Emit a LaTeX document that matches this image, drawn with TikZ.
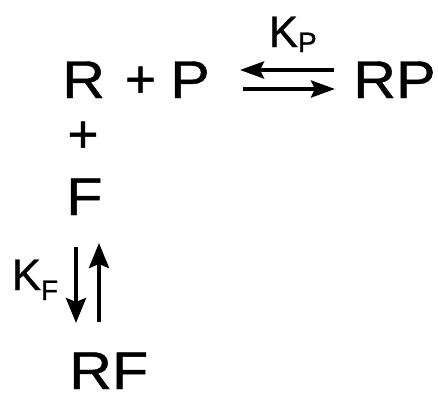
\documentclass[tikz,border=0pt]{standalone}
\usepackage{fontspec}
\setmainfont{Liberation Sans}
\newfontfamily\semi[FakeBold=0.8]{Liberation Sans}
\usetikzlibrary{arrows.meta}
\newcommand\hstr[1]{\scalebox{1.12}[1]{#1}}
\begin{document}
\begin{tikzpicture}[x=1pt,y=-1pt,
  big/.style={inner sep=0pt,anchor=base west,text depth=0pt,font=\semi\fontsize{53}{53}\selectfont},
  bigc/.style={inner sep=0pt,anchor=center,font=\semi\fontsize{53}{53}\selectfont},
  kl/.style={inner sep=0pt,anchor=base west,text depth=0pt,font=\semi\fontsize{44}{44}\selectfont},
  hx/.style={line width=4pt,-{Stealth[length=24pt,width=17pt,inset=4pt]}},
  vx/.style={line width=4pt,-{Stealth[length=25pt,width=20pt,inset=4pt]}}]
\useasboundingbox (0,0) rectangle (438,394);
\node[big] (R) at (62,98) {\hstr{R}};
\node[bigc] (pl1) at (140.5,82) {+};
\node[big] (P) at (170,98) {\hstr{P}};
\node[big] (RP) at (353,98) {\hstr{RP}};
\node[kl] (KP) at (268.5,47) {K\raisebox{-5pt}{\fontsize{28}{28}\selectfont P}};
\node[bigc] (pl2) at (83,137) {+};
\node[big] (F) at (66,215) {\hstr{F}};
\node[big] (RF) at (69,389) {\hstr{RF}};
\node[kl] (KF) at (11.5,290) {K\raisebox{-10pt}{\fontsize{28}{28}\selectfont F}};
\coordinate (a1s) at (334,70);
\coordinate (a1e) at (240,70);
\coordinate (a2s) at (243,89);
\coordinate (a2e) at (335,89);
\coordinate (b1s) at (76,247);
\coordinate (b1e) at (76,323);
\coordinate (b2s) at (99,322);
\coordinate (b2e) at (99,243);
\draw[hx] (a1s) -- (a1e);
\draw[hx] (a2s) -- (a2e);
\draw[vx] (b1s) -- (b1e);
\draw[vx] (b2s) -- (b2e);
\end{tikzpicture}
\end{document}
